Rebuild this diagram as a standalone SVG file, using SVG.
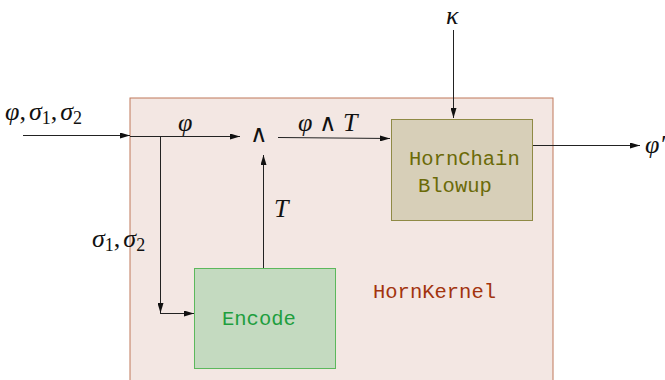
<svg xmlns="http://www.w3.org/2000/svg" width="665" height="380" viewBox="0 0 665 380">
<defs>
<marker id="ah" viewBox="0 0 10 6" refX="10" refY="3" markerWidth="10" markerHeight="6" markerUnits="userSpaceOnUse" orient="auto">
<path d="M0,0 L10,3 L0,6 Z" fill="#111"/>
</marker>
<style>
.arr{stroke:#222;stroke-width:1;fill:none;marker-end:url(#ah)}
.m{font-family:"Liberation Serif","DejaVu Serif",serif;font-style:italic;font-size:26px;fill:#111}
.mu{font-family:"DejaVu Serif",serif;font-size:24px;fill:#111}
.tt{font-family:"Liberation Mono","DejaVu Sans Mono",monospace;font-size:20.5px}
</style>
</defs>
<g id="kernel">
<rect x="130" y="98" width="423" height="290" fill="#f3e7e3" stroke="#c0785a" stroke-width="1"/>
<text class="tt" x="373" y="298" fill="#a2340e">HornKernel</text>
</g>
<g id="blowup">
<rect x="391.5" y="119.5" width="141" height="101" fill="#d7cfb8" stroke="#8f8a45" stroke-width="1"/>
<text class="tt" x="409" y="165" fill="#6b6a08">HornChain</text>
<text class="tt" x="418" y="192" fill="#6b6a08">Blowup</text>
</g>
<g id="encode">
<rect x="194.5" y="268.5" width="141" height="100" fill="#c4dac0" stroke="#5cb85c" stroke-width="1"/>
<text class="tt" x="222" y="325" fill="#1e9e3e">Encode</text>
</g>
<g id="and">
<text class="mu" x="250" y="142">∧</text>
</g>
<g id="connectors">
<path class="arr" d="M23,135.5 L130,135.5"/>
<path class="arr" d="M130,136.5 L240,136.5"/>
<path class="arr" d="M278,137.5 L390,138.5"/>
<path class="arr" d="M453.5,30 L453.5,118"/>
<path class="arr" d="M533,145.5 L640,145.5"/>
<path class="arr" d="M160.5,136 L160.5,313"/>
<path class="arr" d="M160,313.5 L194,313.5"/>
<path class="arr" d="M263.5,268 L263.5,155"/>
</g>
<g id="labels">
<text class="m" x="5" y="120">φ<tspan font-style="normal">,</tspan><tspan dx="3">σ</tspan><tspan font-style="normal" font-size="18" dy="4">1</tspan><tspan font-style="normal" dy="-4">,</tspan><tspan dx="3">σ</tspan><tspan font-style="normal" font-size="18" dy="4">2</tspan></text>
<text class="m" x="178" y="131">φ</text>
<text class="m" x="298" y="131">φ <tspan class="mu" font-style="normal">∧</tspan> T</text>
<text class="m" x="446" y="24" font-size="24">κ</text>
<text class="m" x="645" y="153">φ′</text>
<text class="m" x="92" y="247">σ<tspan font-style="normal" font-size="18" dy="4">1</tspan><tspan font-style="normal" dy="-4">,</tspan><tspan dx="3">σ</tspan><tspan font-style="normal" font-size="18" dy="4">2</tspan></text>
<text class="m" x="274" y="217">T</text>
</g>
</svg>
